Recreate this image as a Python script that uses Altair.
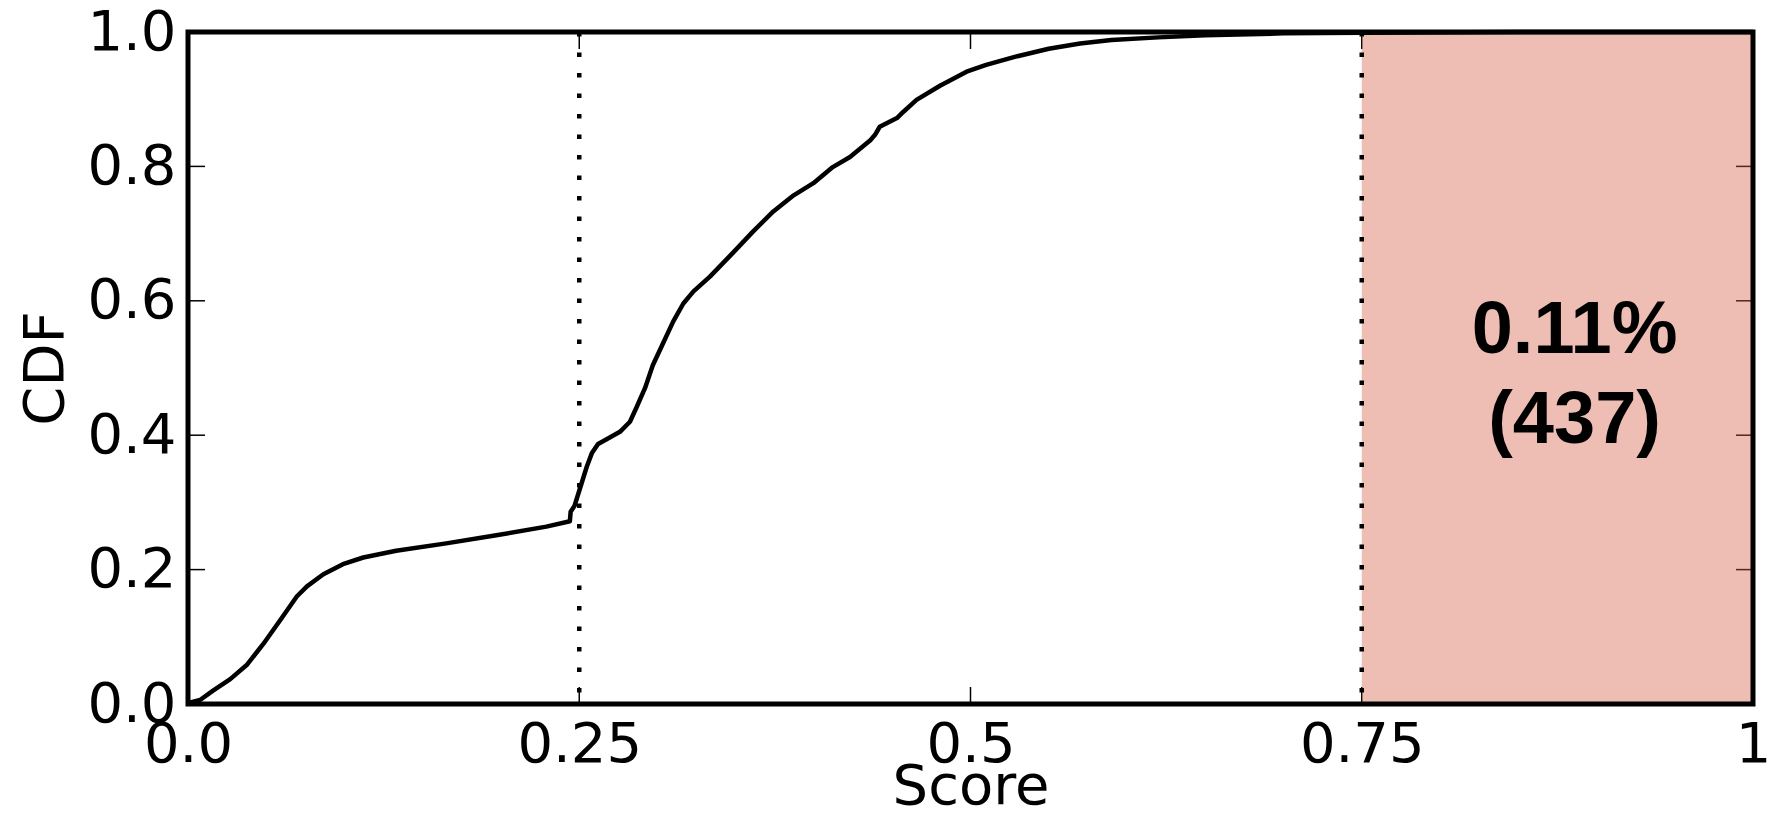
import altair as alt
import pandas as pd

# ---- data ----
score = [0.0, 0.001, 0.0077, 0.016, 0.027, 0.0375, 0.048, 0.059, 0.0695, 0.076,
         0.0865, 0.099, 0.112, 0.133, 0.165, 0.197, 0.229, 0.244, 0.2445, 0.247,
         0.2505, 0.2548, 0.258, 0.262, 0.2675, 0.276, 0.2824, 0.2867, 0.292, 0.297,
         0.304, 0.310, 0.3165, 0.323, 0.3335, 0.348, 0.361, 0.374, 0.387, 0.3996,
         0.412, 0.423, 0.436, 0.439, 0.442, 0.453, 0.457, 0.4655, 0.4805, 0.4975,
         0.51, 0.53, 0.55, 0.57, 0.59, 0.62, 0.65, 0.70, 0.75, 0.85, 1.0]
cdf = [0.0, 0.002, 0.006, 0.020, 0.037, 0.058, 0.089, 0.125, 0.160, 0.175,
       0.193, 0.208, 0.218, 0.228, 0.239, 0.251, 0.264, 0.272, 0.286, 0.295,
       0.321, 0.353, 0.373, 0.387, 0.394, 0.405, 0.420, 0.442, 0.470, 0.504,
       0.539, 0.569, 0.596, 0.614, 0.636, 0.671, 0.703, 0.733, 0.757, 0.775,
       0.799, 0.814, 0.839, 0.847, 0.859, 0.872, 0.881, 0.899, 0.920, 0.941,
       0.951, 0.964, 0.975, 0.983, 0.988, 0.992, 0.995, 0.998, 0.999, 1.0, 1.0]

x_ticks = [0.0, 0.25, 0.5, 0.75, 1.0]
x_tick_labels = ["0.0", "0.25", "0.5", "0.75", "1"]
y_ticks = [0.0, 0.2, 0.4, 0.6, 0.8, 1.0]
threshold_lines = [0.25, 0.75]
region_start = [0.75]
region_end = [1.0]
annot_text = ["0.11%", "(437)"]
annot_x = [0.886, 0.886]
annot_y = [0.523, 0.389]

# ---- layout ----
W, H = 1565, 672
TICK = 17
FONT = "DejaVu Sans"

xs = alt.Scale(domain=[0, 1], nice=False, zero=False)
ys = alt.Scale(domain=[0, 1], nice=False, zero=False)

label_expr = " : ".join(
    f"datum.value == {v} ? '{l}'" for v, l in zip(x_ticks, x_tick_labels)
) + " : ''"

x_axis = alt.Axis(values=x_ticks, labelExpr=label_expr, title="Score",
                  labelPadding=13, titlePadding=-13, labelFlush=False,
                  labelOverlap=False)
y_axis = alt.Axis(values=y_ticks, format=".1f", title="CDF",
                  labelPadding=12, titlePadding=12, labelFlush=False,
                  labelOverlap=False)

df_curve = pd.DataFrame({"x": score, "y": cdf})
df_xt = pd.DataFrame({"x": x_ticks})
df_yt = pd.DataFrame({"y": y_ticks})
df_region = pd.DataFrame({"x": region_start, "x2": region_end})
df_thr = pd.DataFrame({"x": threshold_lines})
df_text = pd.DataFrame({"x": annot_x, "y": annot_y, "t": annot_text})
df_one = pd.DataFrame({"a": [0]})

X = lambda: alt.X("x:Q", scale=xs, axis=x_axis)
Y = lambda: alt.Y("y:Q", scale=ys, axis=y_axis)

tick_style = dict(color="black", strokeWidth=1.5)

xt_bottom = alt.Chart(df_xt).mark_rule(**tick_style).encode(
    x=X(), y=alt.value(H), y2=alt.value(H - TICK))
xt_top = alt.Chart(df_xt).mark_rule(**tick_style).encode(
    x=X(), y=alt.value(0), y2=alt.value(TICK))
yt_left = alt.Chart(df_yt).mark_rule(**tick_style).encode(
    y=Y(), x=alt.value(0), x2=alt.value(TICK))
yt_right = alt.Chart(df_yt).mark_rule(**tick_style).encode(
    y=Y(), x=alt.value(W), x2=alt.value(W - TICK))

region = alt.Chart(df_region).mark_rect(color="#D45C43", opacity=0.4).encode(
    x=X(), x2="x2:Q", y=alt.value(0), y2=alt.value(H))

thr = alt.Chart(df_thr).mark_rule(color="black", strokeWidth=4.5,
                                  strokeDash=[4.5, 16], strokeCap="butt").encode(
    x=X(), y=alt.value(0), y2=alt.value(H))

curve = alt.Chart(df_curve).mark_line(color="black", strokeWidth=4.5,
                                      strokeJoin="round").encode(x=X(), y=Y())

text = alt.Chart(df_text).mark_text(font="Liberation Sans", fontWeight="bold",
                                    fontSize=74, align="center",
                                    baseline="alphabetic", color="black").encode(
    x=X(), y=Y(), text="t:N")

frame = alt.Chart(df_one).mark_rect(filled=False, stroke="black", strokeWidth=5,
                                    fill=None).encode(
    x=alt.value(0), x2=alt.value(W), y=alt.value(0), y2=alt.value(H))

chart = alt.layer(xt_bottom, xt_top, yt_left, yt_right, region, thr, curve,
                  text, frame).properties(
    width=W, height=H,
    padding={"left": 180, "top": 24, "right": 17, "bottom": 115},
    autosize=alt.AutoSizeParams(type="none"),
).configure_view(stroke=None).configure_axis(
    domain=False, ticks=False, tickSize=0, grid=False,
    labelFont=FONT, labelFontSize=56, labelColor="black",
    titleFont=FONT, titleFontSize=56, titleFontWeight="normal",
    titleColor="black",
)

chart.save("out.html", embed_options={"renderer": "svg", "actions": False})
